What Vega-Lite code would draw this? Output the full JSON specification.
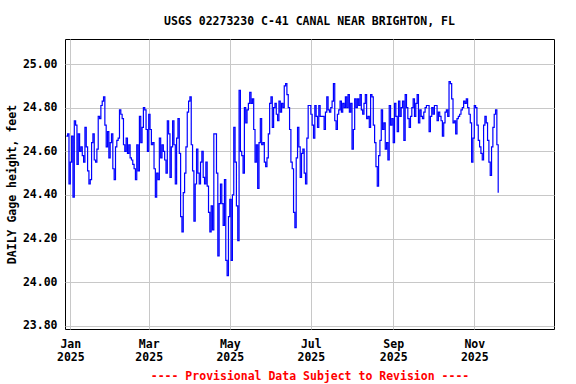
{
"$schema": "https://vega.github.io/schema/vega-lite/v6.json",
"width": 489, "height": 290,
"autosize": "none",
"padding": {"left": 65, "top": 39, "right": 22, "bottom": 55},
"background": "white",
"title": {"text": "USGS 02273230 C-41 CANAL NEAR BRIGHTON, FL", "font": "DejaVu Sans Mono", "fontSize": 11.5, "fontWeight": "bold", "color": "black", "offset": 12, "anchor": "middle"},
"data": {"values": [
{"date":"2024-12-29","height":24.67},{"date":"2024-12-30","height":24.68},{"date":"2024-12-31","height":24.45},
{"date":"2025-01-01","height":24.55},{"date":"2025-01-02","height":24.67},{"date":"2025-01-03","height":24.39},{"date":"2025-01-04","height":24.74},{"date":"2025-01-05","height":24.72},{"date":"2025-01-06","height":24.54},{"date":"2025-01-07","height":24.68},{"date":"2025-01-08","height":24.60},{"date":"2025-01-09","height":24.62},{"date":"2025-01-10","height":24.58},{"date":"2025-01-11","height":24.55},{"date":"2025-01-12","height":24.71},{"date":"2025-01-13","height":24.62},{"date":"2025-01-14","height":24.51},{"date":"2025-01-15","height":24.45},{"date":"2025-01-16","height":24.47},{"date":"2025-01-17","height":24.64},{"date":"2025-01-18","height":24.68},{"date":"2025-01-19","height":24.56},{"date":"2025-01-20","height":24.55},{"date":"2025-01-21","height":24.61},{"date":"2025-01-22","height":24.76},{"date":"2025-01-23","height":24.75},{"date":"2025-01-24","height":24.81},{"date":"2025-01-25","height":24.83},{"date":"2025-01-26","height":24.85},{"date":"2025-01-27","height":24.72},{"date":"2025-01-28","height":24.62},{"date":"2025-01-29","height":24.69},{"date":"2025-01-30","height":24.57},{"date":"2025-01-31","height":24.64},
{"date":"2025-02-01","height":24.68},{"date":"2025-02-02","height":24.52},{"date":"2025-02-03","height":24.47},{"date":"2025-02-04","height":24.62},{"date":"2025-02-05","height":24.65},{"date":"2025-02-06","height":24.66},{"date":"2025-02-07","height":24.79},{"date":"2025-02-08","height":24.77},{"date":"2025-02-09","height":24.75},{"date":"2025-02-10","height":24.63},{"date":"2025-02-11","height":24.60},{"date":"2025-02-12","height":24.66},{"date":"2025-02-13","height":24.59},{"date":"2025-02-14","height":24.63},{"date":"2025-02-15","height":24.57},{"date":"2025-02-16","height":24.56},{"date":"2025-02-17","height":24.54},{"date":"2025-02-18","height":24.52},{"date":"2025-02-19","height":24.47},{"date":"2025-02-20","height":24.63},{"date":"2025-02-21","height":24.51},{"date":"2025-02-22","height":24.76},{"date":"2025-02-23","height":24.64},{"date":"2025-02-24","height":24.71},{"date":"2025-02-25","height":24.80},{"date":"2025-02-26","height":24.79},{"date":"2025-02-27","height":24.70},{"date":"2025-02-28","height":24.60},
{"date":"2025-03-01","height":24.77},{"date":"2025-03-02","height":24.70},{"date":"2025-03-03","height":24.63},{"date":"2025-03-04","height":24.64},{"date":"2025-03-05","height":24.52},{"date":"2025-03-06","height":24.39},{"date":"2025-03-07","height":24.50},{"date":"2025-03-08","height":24.47},{"date":"2025-03-09","height":24.66},{"date":"2025-03-10","height":24.57},{"date":"2025-03-11","height":24.63},{"date":"2025-03-12","height":24.60},{"date":"2025-03-13","height":24.56},{"date":"2025-03-14","height":24.50},{"date":"2025-03-15","height":24.74},{"date":"2025-03-16","height":24.68},{"date":"2025-03-17","height":24.48},{"date":"2025-03-18","height":24.62},{"date":"2025-03-19","height":24.74},{"date":"2025-03-20","height":24.63},{"date":"2025-03-21","height":24.45},{"date":"2025-03-22","height":24.66},{"date":"2025-03-23","height":24.75},{"date":"2025-03-24","height":24.59},{"date":"2025-03-25","height":24.30},{"date":"2025-03-26","height":24.23},{"date":"2025-03-27","height":24.41},{"date":"2025-03-28","height":24.50},{"date":"2025-03-29","height":24.62},{"date":"2025-03-30","height":24.78},{"date":"2025-03-31","height":24.83},
{"date":"2025-04-01","height":24.85},{"date":"2025-04-02","height":24.63},{"date":"2025-04-03","height":24.51},{"date":"2025-04-04","height":24.28},{"date":"2025-04-05","height":24.45},{"date":"2025-04-06","height":24.61},{"date":"2025-04-07","height":24.50},{"date":"2025-04-08","height":24.45},{"date":"2025-04-09","height":24.55},{"date":"2025-04-10","height":24.60},{"date":"2025-04-11","height":24.48},{"date":"2025-04-12","height":24.45},{"date":"2025-04-13","height":24.55},{"date":"2025-04-14","height":24.44},{"date":"2025-04-15","height":24.32},{"date":"2025-04-16","height":24.23},{"date":"2025-04-17","height":24.35},{"date":"2025-04-18","height":24.24},{"date":"2025-04-19","height":24.68},{"date":"2025-04-20","height":24.68},{"date":"2025-04-21","height":24.50},{"date":"2025-04-22","height":24.12},{"date":"2025-04-23","height":24.36},{"date":"2025-04-24","height":24.45},{"date":"2025-04-25","height":24.36},{"date":"2025-04-26","height":24.26},{"date":"2025-04-27","height":24.47},{"date":"2025-04-28","height":24.10},{"date":"2025-04-29","height":24.03},{"date":"2025-04-30","height":24.30},
{"date":"2025-05-01","height":24.38},{"date":"2025-05-02","height":24.10},{"date":"2025-05-03","height":24.40},{"date":"2025-05-04","height":24.71},{"date":"2025-05-05","height":24.55},{"date":"2025-05-06","height":24.35},{"date":"2025-05-07","height":24.19},{"date":"2025-05-08","height":24.88},{"date":"2025-05-09","height":24.60},{"date":"2025-05-10","height":24.58},{"date":"2025-05-11","height":24.50},{"date":"2025-05-12","height":24.80},{"date":"2025-05-13","height":24.73},{"date":"2025-05-14","height":24.79},{"date":"2025-05-15","height":24.82},{"date":"2025-05-16","height":24.87},{"date":"2025-05-17","height":24.82},{"date":"2025-05-18","height":24.84},{"date":"2025-05-19","height":24.70},{"date":"2025-05-20","height":24.55},{"date":"2025-05-21","height":24.63},{"date":"2025-05-22","height":24.43},{"date":"2025-05-23","height":24.64},{"date":"2025-05-24","height":24.75},{"date":"2025-05-25","height":24.63},{"date":"2025-05-26","height":24.64},{"date":"2025-05-27","height":24.55},{"date":"2025-05-28","height":24.53},{"date":"2025-05-29","height":24.57},{"date":"2025-05-30","height":24.68},{"date":"2025-05-31","height":24.82},
{"date":"2025-06-01","height":24.85},{"date":"2025-06-02","height":24.71},{"date":"2025-06-03","height":24.80},{"date":"2025-06-04","height":24.82},{"date":"2025-06-05","height":24.77},{"date":"2025-06-06","height":24.74},{"date":"2025-06-07","height":24.83},{"date":"2025-06-08","height":24.78},{"date":"2025-06-09","height":24.82},{"date":"2025-06-10","height":24.80},{"date":"2025-06-11","height":24.90},{"date":"2025-06-12","height":24.91},{"date":"2025-06-13","height":24.86},{"date":"2025-06-14","height":24.80},{"date":"2025-06-15","height":24.70},{"date":"2025-06-16","height":24.55},{"date":"2025-06-17","height":24.52},{"date":"2025-06-18","height":24.32},{"date":"2025-06-19","height":24.25},{"date":"2025-06-20","height":24.57},{"date":"2025-06-21","height":24.71},{"date":"2025-06-22","height":24.62},{"date":"2025-06-23","height":24.48},{"date":"2025-06-24","height":24.59},{"date":"2025-06-25","height":24.61},{"date":"2025-06-26","height":24.50},{"date":"2025-06-27","height":24.45},{"date":"2025-06-28","height":24.66},{"date":"2025-06-29","height":24.81},{"date":"2025-06-30","height":24.81},
{"date":"2025-07-01","height":24.77},{"date":"2025-07-02","height":24.72},{"date":"2025-07-03","height":24.66},{"date":"2025-07-04","height":24.81},{"date":"2025-07-05","height":24.76},{"date":"2025-07-06","height":24.71},{"date":"2025-07-07","height":24.81},{"date":"2025-07-08","height":24.76},{"date":"2025-07-09","height":24.76},{"date":"2025-07-10","height":24.76},{"date":"2025-07-11","height":24.70},{"date":"2025-07-12","height":24.78},{"date":"2025-07-13","height":24.85},{"date":"2025-07-14","height":24.79},{"date":"2025-07-15","height":24.78},{"date":"2025-07-16","height":24.80},{"date":"2025-07-17","height":24.83},{"date":"2025-07-18","height":24.91},{"date":"2025-07-19","height":24.74},{"date":"2025-07-20","height":24.70},{"date":"2025-07-21","height":24.77},{"date":"2025-07-22","height":24.79},{"date":"2025-07-23","height":24.83},{"date":"2025-07-24","height":24.78},{"date":"2025-07-25","height":24.82},{"date":"2025-07-26","height":24.80},{"date":"2025-07-27","height":24.85},{"date":"2025-07-28","height":24.80},{"date":"2025-07-29","height":24.86},{"date":"2025-07-30","height":24.78},{"date":"2025-07-31","height":24.82},
{"date":"2025-08-01","height":24.61},{"date":"2025-08-02","height":24.70},{"date":"2025-08-03","height":24.84},{"date":"2025-08-04","height":24.80},{"date":"2025-08-05","height":24.84},{"date":"2025-08-06","height":24.81},{"date":"2025-08-07","height":24.86},{"date":"2025-08-08","height":24.79},{"date":"2025-08-09","height":24.77},{"date":"2025-08-10","height":24.82},{"date":"2025-08-11","height":24.86},{"date":"2025-08-12","height":24.75},{"date":"2025-08-13","height":24.76},{"date":"2025-08-14","height":24.71},{"date":"2025-08-15","height":24.86},{"date":"2025-08-16","height":24.85},{"date":"2025-08-17","height":24.72},{"date":"2025-08-18","height":24.64},{"date":"2025-08-19","height":24.53},{"date":"2025-08-20","height":24.44},{"date":"2025-08-21","height":24.58},{"date":"2025-08-22","height":24.65},{"date":"2025-08-23","height":24.79},{"date":"2025-08-24","height":24.70},{"date":"2025-08-25","height":24.73},{"date":"2025-08-26","height":24.61},{"date":"2025-08-27","height":24.64},{"date":"2025-08-28","height":24.56},{"date":"2025-08-29","height":24.81},{"date":"2025-08-30","height":24.72},{"date":"2025-08-31","height":24.75},
{"date":"2025-09-01","height":24.64},{"date":"2025-09-02","height":24.82},{"date":"2025-09-03","height":24.76},{"date":"2025-09-04","height":24.69},{"date":"2025-09-05","height":24.83},{"date":"2025-09-06","height":24.76},{"date":"2025-09-07","height":24.80},{"date":"2025-09-08","height":24.83},{"date":"2025-09-09","height":24.65},{"date":"2025-09-10","height":24.86},{"date":"2025-09-11","height":24.80},{"date":"2025-09-12","height":24.75},{"date":"2025-09-13","height":24.71},{"date":"2025-09-14","height":24.76},{"date":"2025-09-15","height":24.80},{"date":"2025-09-16","height":24.84},{"date":"2025-09-17","height":24.76},{"date":"2025-09-18","height":24.82},{"date":"2025-09-19","height":24.86},{"date":"2025-09-20","height":24.73},{"date":"2025-09-21","height":24.79},{"date":"2025-09-22","height":24.76},{"date":"2025-09-23","height":24.75},{"date":"2025-09-24","height":24.78},{"date":"2025-09-25","height":24.80},{"date":"2025-09-26","height":24.81},{"date":"2025-09-27","height":24.81},{"date":"2025-09-28","height":24.69},{"date":"2025-09-29","height":24.76},{"date":"2025-09-30","height":24.80},
{"date":"2025-10-01","height":24.77},{"date":"2025-10-02","height":24.81},{"date":"2025-10-03","height":24.81},{"date":"2025-10-04","height":24.74},{"date":"2025-10-05","height":24.78},{"date":"2025-10-06","height":24.76},{"date":"2025-10-07","height":24.74},{"date":"2025-10-08","height":24.67},{"date":"2025-10-09","height":24.73},{"date":"2025-10-10","height":24.78},{"date":"2025-10-11","height":24.79},{"date":"2025-10-12","height":24.76},{"date":"2025-10-13","height":24.92},{"date":"2025-10-14","height":24.91},{"date":"2025-10-15","height":24.84},{"date":"2025-10-16","height":24.73},{"date":"2025-10-17","height":24.74},{"date":"2025-10-18","height":24.68},{"date":"2025-10-19","height":24.75},{"date":"2025-10-20","height":24.76},{"date":"2025-10-21","height":24.77},{"date":"2025-10-22","height":24.79},{"date":"2025-10-23","height":24.80},{"date":"2025-10-24","height":24.83},{"date":"2025-10-25","height":24.82},{"date":"2025-10-26","height":24.84},{"date":"2025-10-27","height":24.80},{"date":"2025-10-28","height":24.77},{"date":"2025-10-29","height":24.73},{"date":"2025-10-30","height":24.55},{"date":"2025-10-31","height":24.66},
{"date":"2025-11-01","height":24.81},{"date":"2025-11-02","height":24.80},{"date":"2025-11-03","height":24.72},{"date":"2025-11-04","height":24.65},{"date":"2025-11-05","height":24.62},{"date":"2025-11-06","height":24.59},{"date":"2025-11-07","height":24.56},{"date":"2025-11-08","height":24.72},{"date":"2025-11-09","height":24.76},{"date":"2025-11-10","height":24.73},{"date":"2025-11-11","height":24.65},{"date":"2025-11-12","height":24.55},{"date":"2025-11-13","height":24.49},{"date":"2025-11-14","height":24.62},{"date":"2025-11-15","height":24.71},{"date":"2025-11-16","height":24.77},{"date":"2025-11-17","height":24.79},{"date":"2025-11-18","height":24.63},{"date":"2025-11-19","height":24.41}
]},
"mark": {"type": "line", "color": "#0000ff", "strokeWidth": 1.2, "interpolate": "step-after"},
"encoding": {
  "x": {"field": "date", "type": "temporal",
    "scale": {"type": "utc", "domain": [{"year": 2024, "month": 12, "date": 28, "utc": true}, {"year": 2025, "month": 12, "date": 31, "utc": true}]},
    "axis": {
      "values": [{"year": 2025, "month": 1, "date": 1, "utc": true}, {"year": 2025, "month": 3, "date": 1, "utc": true}, {"year": 2025, "month": 5, "date": 1, "utc": true}, {"year": 2025, "month": 7, "date": 1, "utc": true}, {"year": 2025, "month": 9, "date": 1, "utc": true}, {"year": 2025, "month": 11, "date": 1, "utc": true}],
      "labelExpr": "[utcFormat(datum.value, '%b'), utcFormat(datum.value, '%Y')]",
      "labelFlush": false, "labelPadding": 9, "labelLineHeight": 13,
      "title": "---- Provisional Data Subject to Revision ----", "titleColor": "#ff0000", "titlePadding": 8
    }},
  "y": {"field": "height", "type": "quantitative",
    "scale": {"domain": [23.785, 25.115], "nice": false, "zero": false},
    "axis": {"values": [23.8, 24.0, 24.2, 24.4, 24.6, 24.8, 25.0], "format": ".2f", "labelPadding": 8, "title": "DAILY Gage height, feet", "titlePadding": 5}}
},
"config": {
  "view": {"stroke": "black", "strokeWidth": 1},
  "axis": {"labelFont": "DejaVu Sans Mono", "labelFontSize": 11.5, "labelFontWeight": "bold", "labelColor": "black", "titleFont": "DejaVu Sans Mono", "titleFontSize": 11.5, "titleFontWeight": "bold", "titleColor": "black", "grid": true, "gridColor": "#c8c8c8", "gridWidth": 1, "ticks": false, "domain": false}
}
}
